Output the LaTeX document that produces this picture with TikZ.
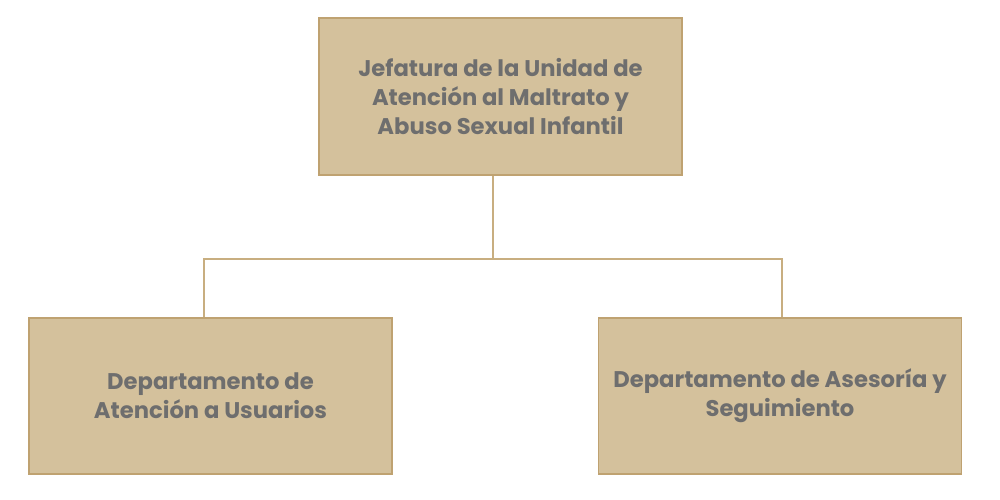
\documentclass[tikz,border=0pt]{standalone}
\usepackage{fontspec}
\setmainfont{Poppins}
\usepackage{xcolor}
\definecolor{boxfill}{HTML}{D4C19C}
\definecolor{boxline}{HTML}{BFA271}
\definecolor{linkline}{HTML}{C8AE80}
\definecolor{txtgray}{HTML}{6E6E6E}
\usetikzlibrary{positioning}

\begin{document}
\begin{tikzpicture}[
  unitbox/.style={draw=boxline,fill=boxfill,line width=1.1pt,minimum width=7.26cm,minimum height=3.13cm,
    align=center,text=txtgray,font=\fontsize{12.9}{16.5}\selectfont\bfseries},
  link/.style={draw=linkline,line width=1.4pt}
]
\useasboundingbox (0,0) rectangle (20,10);
%---------------------------------------------------
\node[unitbox] (jefatura) at (10.01,8.07) {Jefatura de la Unidad de\\Atención al Maltrato y\\Abuso Sexual Infantil};
\node[unitbox] (usuarios) at (4.21,2.08) {Departamento de\\Atención a Usuarios};
\node[unitbox] (asesoria) at (15.6,2.08) {Departamento de Asesoría y\\Seguimiento};
%---------------------------------------------------
\coordinate (top) at (9.86,0 |- jefatura.south);
\coordinate (split) at (9.86,4.82);
\coordinate (left) at (4.08,0 |- usuarios.north);
\coordinate (right) at (15.64,0 |- asesoria.north);
\draw[link] (top) -- (split);
\draw[link] (left) |- (split) -| (right);
\end{tikzpicture}
\end{document}
